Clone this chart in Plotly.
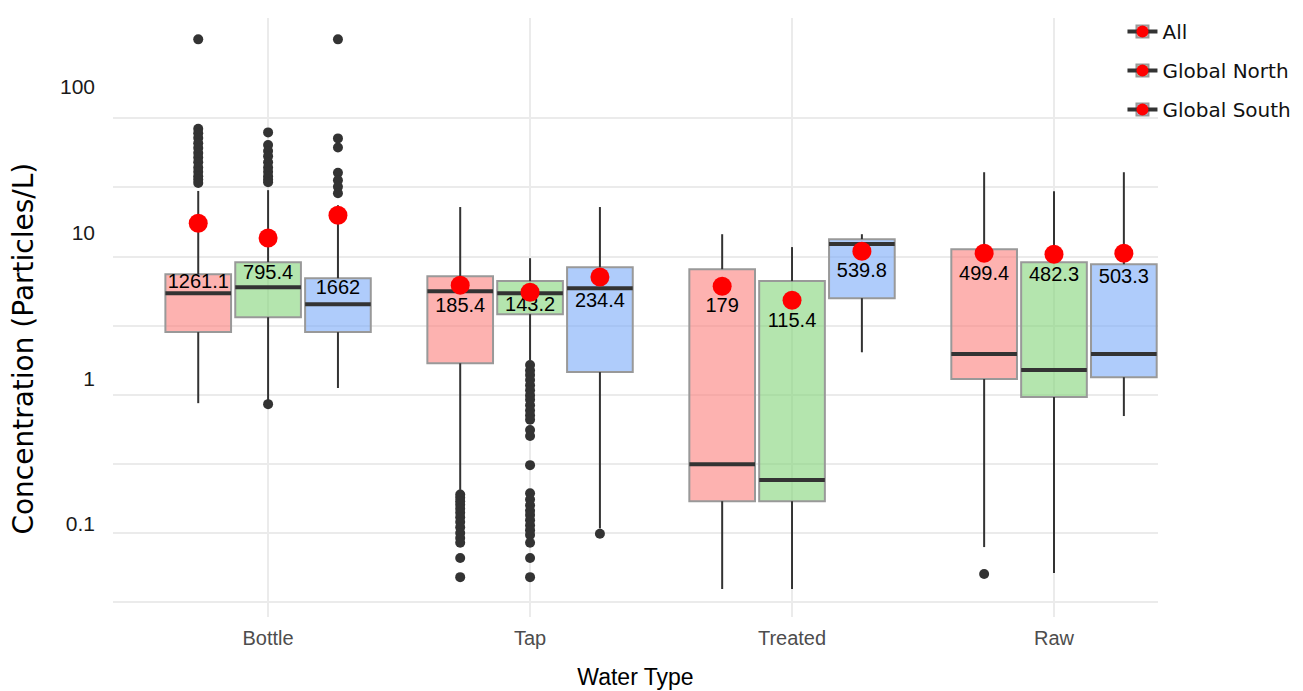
import plotly.graph_objects as go

# ---------------- data ----------------
categories = ["Bottle", "Tap", "Treated", "Raw"]
series = ["All", "Global North", "Global South"]

# every stat list is indexed [series][category]
q1 = [[2.84, 1.69, 0.170, 1.30],
      [3.64, 3.83, 0.170, 0.962],
      [2.84, 1.46, 5.0, 1.34]]
median = [[5.43, 5.61, 0.315, 1.97],
          [6.0, 5.43, 0.2415, 1.51],
          [4.52, 5.9, 12.3, 1.97]]
q3 = [[7.45, 7.21, 8.1, 11.3],
      [9.1, 6.64, 6.64, 9.1],
      [6.97, 8.37, 13.35, 8.8]]
whisker_low = [[0.87, 0.205, 0.0394, 0.0792],
               [0.915, 1.78, 0.0394, 0.0514],
               [1.12, 0.108, 2.03, 0.702]]
whisker_high = [[29.8, 22.8, 14.5, 40.7],
                [30.2, 9.73, 11.7, 29.7],
                [23.5, 22.8, 14.5, 40.7]]
mean_point = [[17.4, 6.21, 6.1, 10.57],
              [13.6, 5.52, 4.83, 10.4],
              [19.9, 7.1, 10.93, 10.57]]
mean_label = [["1261.1", "185.4", "179", "499.4"],
              ["795.4", "143.2", "115.4", "482.3"],
              ["1662", "234.4", "539.8", "503.3"]]
label_y = [[6.42, 4.31, 4.31, 7.33],
           [7.45, 4.38, 3.35, 7.2],
           [5.81, 4.68, 7.71, 6.97]]
outliers = [
    [[372, 84, 78, 72, 66, 61, 56, 52, 48, 44, 41, 38, 36, 34],
     [0.19, 0.18, 0.17, 0.16, 0.15, 0.14, 0.13, 0.12, 0.11, 0.1, 0.092, 0.085, 0.066, 0.048],
     [],
     [0.0506]],
    [[79, 64, 58, 53, 48, 44, 41, 38, 36, 34.4, 0.856],
     [1.64, 1.5, 1.39, 1.28, 1.17, 1.08, 0.99, 0.92, 0.84, 0.77, 0.71, 0.66, 0.556, 0.503,
      0.31, 0.194, 0.175, 0.159, 0.145, 0.135, 0.124, 0.114, 0.105, 0.097, 0.085, 0.066, 0.048],
     [],
     []],
    [[372, 71.5, 61.5, 40.4, 35.6, 31.9, 28.7],
     [0.099],
     [],
     []],
]

y_tick_labels = ["0.1", "1", "10", "100"]
y_tick_values = [0.1, 1, 10, 100]
y_grid_values = [0.0316, 0.1, 0.316, 1, 3.16, 10, 31.6, 100]

# ---------------- styling ----------------
fills = ["rgba(252,127,123,0.6)", "rgba(130,212,120,0.6)", "rgba(122,170,248,0.6)"]
border = "#999999"
dark = "#333333"
grid = "#EBEBEB"
dodge = 0.8
box_w = dodge / 3 * 0.94

fig = go.Figure()


def pos(s, c):
    return c + (s - 1) * dodge / 3


# whiskers
for s in range(3):
    xs, ys = [], []
    for c in range(4):
        p = pos(s, c)
        xs += [p, p, None, p, p, None]
        ys += [q3[s][c], whisker_high[s][c], None, q1[s][c], whisker_low[s][c], None]
    fig.add_trace(go.Scatter(x=xs, y=ys, mode="lines", line=dict(color=dark, width=2),
                             showlegend=False, hoverinfo="skip"))

# boxes
for s in range(3):
    fig.add_trace(go.Box(
        name=series[s], legend="legend", legendgroup="b%d" % s,
        x=[pos(s, c) for c in range(4)],
        q1=q1[s], median=median[s], q3=q3[s],
        lowerfence=q1[s], upperfence=q3[s],
        width=box_w, whiskerwidth=0, boxpoints=False,
        fillcolor=fills[s], line=dict(color=border, width=2),
    ))

# medians
for s in range(3):
    xs, ys = [], []
    for c in range(4):
        p = pos(s, c)
        xs += [p - box_w / 2, p + box_w / 2, None]
        ys += [median[s][c], median[s][c], None]
    fig.add_trace(go.Scatter(name=series[s], legend="legend2", legendgroup="d%d" % s,
                             x=xs, y=ys, mode="lines", line=dict(color=dark, width=4),
                             hoverinfo="skip"))

# outliers
for s in range(3):
    xs, ys = [], []
    for c in range(4):
        for v in outliers[s][c]:
            xs.append(pos(s, c))
            ys.append(v)
    fig.add_trace(go.Scatter(x=xs, y=ys, mode="markers",
                             marker=dict(color=dark, size=10, line=dict(width=0)),
                             showlegend=False))

# mean labels
for s in range(3):
    fig.add_trace(go.Scatter(x=[pos(s, c) for c in range(4)], y=label_y[s], mode="text",
                             text=mean_label[s], textposition="middle center",
                             textfont=dict(family="Liberation Sans, Arial", size=20, color="#000000"),
                             showlegend=False, hoverinfo="skip"))

# mean points
for s in range(3):
    fig.add_trace(go.Scatter(name=series[s], legend="legend3", legendgroup="m%d" % s,
                             x=[pos(s, c) for c in range(4)], y=mean_point[s], mode="markers",
                             marker=dict(color="#FF0000", size=19, line=dict(width=0))))

# invisible helper trace so the label axis exists
fig.add_trace(go.Scatter(x=[None], y=[None], yaxis="y2", showlegend=False, hoverinfo="skip"))

legend_common = dict(x=0.966, y=1.01, xanchor="left", yanchor="top",
                     bgcolor="rgba(0,0,0,0)", tracegroupgap=10,
                     traceorder="grouped")
hidden_font = dict(family="DejaVu Sans", size=20, color="rgba(0,0,0,0)")

fig.update_layout(
    width=1303, height=691, autosize=False,
    margin=dict(l=105, r=153, t=4, b=82),
    plot_bgcolor="white", paper_bgcolor="white",
    xaxis=dict(range=[-0.592, 3.397], tickvals=list(range(len(categories))), ticktext=categories,
               showgrid=True, gridcolor=grid, gridwidth=1.5, zeroline=False, ticks="",
               showline=False, ticklabelstandoff=7,
               tickfont=dict(family="Liberation Sans, Arial", size=20, color="#4D4D4D"),
               title=dict(text="Water Type", standoff=20,
                          font=dict(family="Liberation Sans, Arial", size=23, color="#000000"))),
    yaxis=dict(type="log", range=[-1.607, 2.725], tickvals=y_grid_values, showticklabels=False,
               showgrid=True, gridcolor=grid, gridwidth=1.5, zeroline=False, ticks="",
               showline=False),
    yaxis2=dict(type="log", overlaying="y", side="left", anchor="x", range=[-1.637, 2.47],
                tickvals=y_tick_values, ticktext=y_tick_labels, showgrid=False, zeroline=False,
                ticks="", showline=False, ticklabelstandoff=17,
                tickfont=dict(family="Liberation Sans, Arial", size=21, color="#1A1A1A")),
    legend=dict(**legend_common, itemsizing="trace",
                font=dict(family="DejaVu Sans", size=20, color="#111111")),
    legend2=dict(**legend_common, itemsizing="trace", font=hidden_font),
    legend3=dict(**legend_common, itemsizing="constant", font=hidden_font),
    annotations=[dict(text="Concentration (Particles/L)", textangle=-90, xref="paper", yref="paper",
                      x=-0.0852, y=0.448, xanchor="center", yanchor="middle", showarrow=False,
                      font=dict(family="DejaVu Sans", size=28, color="#000000"))],
)

fig.write_html("out.html")
